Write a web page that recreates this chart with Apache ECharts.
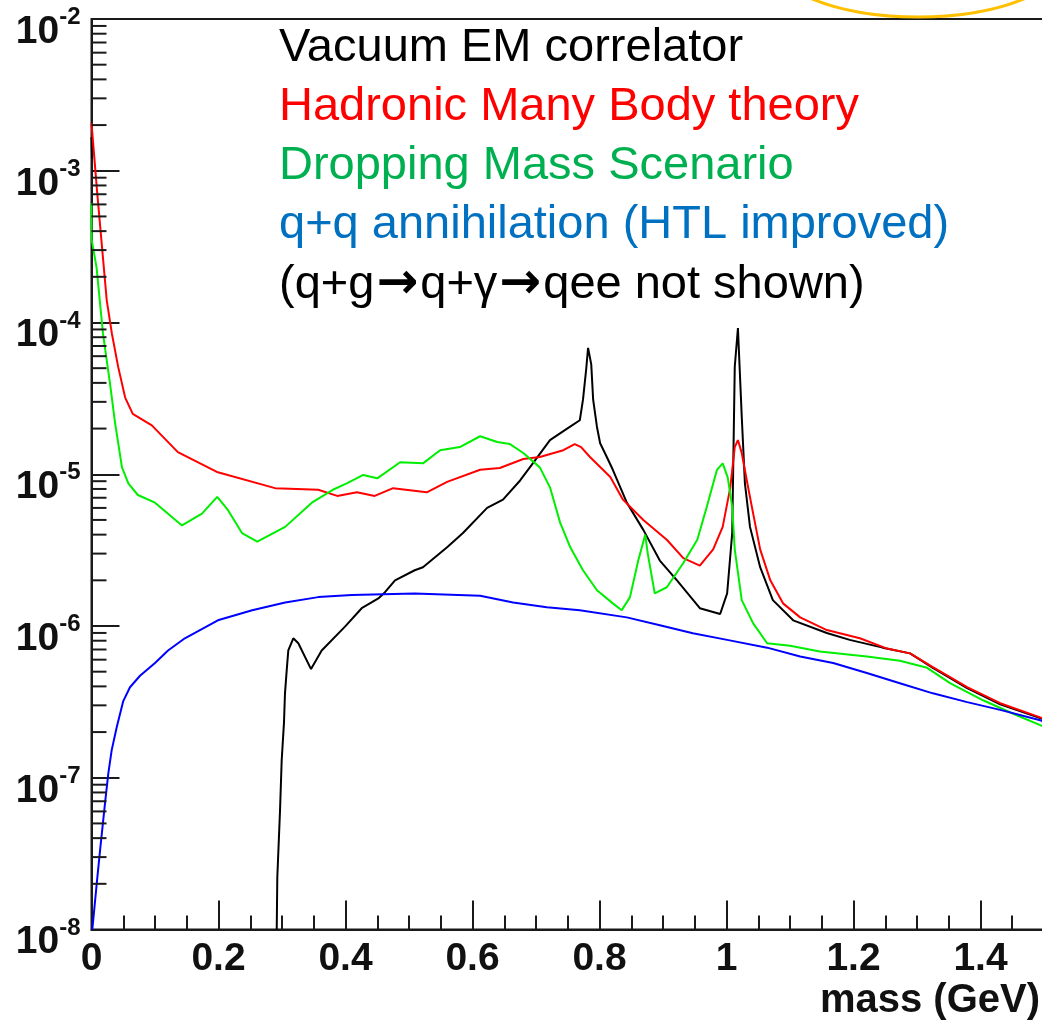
<!DOCTYPE html>
<html>
<head>
<meta charset="utf-8">
<script src="https://cdn.jsdelivr.net/npm/echarts@6/dist/echarts.min.js"></script>
<style>
html,body{margin:0;padding:0;background:#fff;}
#chart{width:1042px;height:1021px;}
</style>
</head>
<body>
<div id="chart"></div>
<script>
// ---- data: [mass (GeV), value] ----
const vacuumEMEdge = [[0.0, 1.67e-3], [0.0008, 1.21e-3]];
const vacuumEM = [
  [0.2917,1.0e-8],[0.2926,2.2e-8],[0.2969,6.1e-8],[0.2995,1.3e-7],[0.3031,2.3e-7],[0.3047,3.6e-7],
  [0.3074,5.1e-7],[0.3099,6.9e-7],[0.3178,8.3e-7],[0.3257,7.7e-7],[0.3457,5.2e-7],[0.3625,6.9e-7],
  [0.3992,9.9e-7],[0.4255,1.31e-6],[0.4517,1.52e-6],[0.4622,1.67e-6],[0.478,2.0e-6],[0.509,2.33e-6],
  [0.522,2.44e-6],[0.560,3.3e-6],[0.585,4.1e-6],[0.623,6.0e-6],[0.648,6.8e-6],[0.675,9.1e-6],
  [0.695,1.18e-5],[0.722,1.68e-5],[0.749,2.0e-5],[0.769,2.27e-5],[0.774,3.1e-5],[0.779,4.9e-5],
  [0.782,6.8e-5],[0.787,5.3e-5],[0.790,3.1e-5],[0.796,2.05e-5],[0.801,1.6e-5],[0.810,1.34e-5],
  [0.821,1.07e-5],[0.843,6.5e-6],[0.869,4.3e-6],[0.895,2.7e-6],[0.922,2.0e-6],[0.958,1.31e-6],
  [0.990,1.2e-6],[1.001,1.64e-6],[1.009,4.1e-6],[1.013,5.1e-5],[1.018,9.2e-5],[1.024,2.4e-5],
  [1.029,8.7e-6],[1.037,4.5e-6],[1.053,2.44e-6],[1.073,1.48e-6],[1.105,1.09e-6],[1.158,9.0e-7],
  [1.194,8.1e-7],[1.246,7.2e-7],[1.289,6.6e-7],[1.325,5.3e-7],[1.379,3.9e-7],[1.431,3.05e-7],
  [1.494,2.47e-7],[1.5,2.42e-7]
];
const hadronicMBT = [
  [0.000,2.06e-3],[0.009,7.15e-4],[0.024,1.4e-4],[0.032,8.5e-5],[0.042,5.1e-5],[0.053,3.2e-5],
  [0.065,2.5e-5],[0.095,2.1e-5],[0.136,1.4e-5],[0.199,1.03e-5],[0.289,8.1e-6],[0.357,7.9e-6],
  [0.387,7.2e-6],[0.418,7.6e-6],[0.446,7.2e-6],[0.475,8.1e-6],[0.528,7.6e-6],[0.560,8.9e-6],
  [0.612,1.07e-5],[0.643,1.1e-5],[0.680,1.26e-5],[0.706,1.3e-5],[0.743,1.44e-5],[0.761,1.58e-5],
  [0.771,1.51e-5],[0.785,1.3e-5],[0.817,9.6e-6],[0.837,6.8e-6],[0.869,5.0e-6],[0.906,3.7e-6],
  [0.932,2.8e-6],[0.958,2.5e-6],[0.979,3.2e-6],[0.994,4.5e-6],[1.006,8.2e-6],[1.013,1.51e-5],
  [1.018,1.68e-5],[1.024,1.38e-5],[1.032,9.1e-6],[1.042,5.5e-6],[1.053,3.2e-6],[1.069,2.0e-6],
  [1.089,1.41e-6],[1.116,1.14e-6],[1.158,9.4e-7],[1.210,8.3e-7],[1.253,7.1e-7],[1.289,6.6e-7],
  [1.325,5.35e-7],[1.379,3.95e-7],[1.431,3.1e-7],[1.494,2.5e-7],[1.5,2.45e-7]
];
const droppingMass = [
  [0.000,6.1e-4],[0.0003,3.5e-4],[0.008,2.3e-4],[0.018,8.5e-5],[0.029,4.0e-5],[0.037,2.2e-5],
  [0.048,1.11e-5],[0.058,8.7e-6],[0.073,7.3e-6],[0.100,6.5e-6],[0.1425,4.6e-6],[0.174,5.5e-6],
  [0.198,7.1e-6],[0.215,5.8e-6],[0.237,4.1e-6],[0.261,3.6e-6],[0.305,4.5e-6],[0.347,6.5e-6],
  [0.380,7.9e-6],[0.402,8.7e-6],[0.428,9.9e-6],[0.450,9.4e-6],[0.486,1.2e-5],[0.522,1.18e-5],
  [0.549,1.44e-5],[0.580,1.51e-5],[0.612,1.78e-5],[0.639,1.63e-5],[0.659,1.58e-5],[0.680,1.38e-5],
  [0.706,1.11e-5],[0.722,8.2e-6],[0.738,4.8e-6],[0.754,3.3e-6],[0.774,2.33e-6],[0.796,1.72e-6],
  [0.821,1.41e-6],[0.835,1.27e-6],[0.848,1.55e-6],[0.861,2.7e-6],[0.872,4.0e-6],[0.876,3.0e-6],
  [0.887,1.64e-6],[0.906,1.8e-6],[0.932,2.6e-6],[0.954,3.7e-6],[0.969,6.1e-6],[0.985,1.07e-5],
  [0.994,1.18e-5],[1.002,9.5e-6],[1.009,6.1e-6],[1.013,3.2e-6],[1.024,1.48e-6],[1.042,1.04e-6],
  [1.064,7.7e-7],[1.100,7.4e-7],[1.147,6.8e-7],[1.221,6.3e-7],[1.273,5.9e-7],[1.316,5.3e-7],
  [1.352,4.2e-7],[1.404,3.24e-7],[1.457,2.58e-7],[1.494,2.22e-7],[1.5,2.18e-7]
];
const qqAnnihilation = [
  [0.0013,1.0e-8],[0.0082,2.0e-8],[0.0134,3.3e-8],[0.0213,6.8e-8],[0.0265,1.07e-7],[0.0318,1.52e-7],
  [0.0397,2.15e-7],[0.050,3.2e-7],[0.0606,3.95e-7],[0.0764,4.7e-7],[0.100,5.7e-7],[0.1205,6.9e-7],
  [0.147,8.3e-7],[0.199,1.09e-6],[0.253,1.27e-6],[0.305,1.43e-6],[0.357,1.55e-6],[0.410,1.6e-6],
  [0.509,1.64e-6],[0.612,1.58e-6],[0.664,1.43e-6],[0.717,1.33e-6],[0.769,1.27e-6],[0.843,1.14e-6],
  [0.895,1.01e-6],[0.947,8.95e-7],[1.001,8.1e-7],[1.064,7.2e-7],[1.116,6.3e-7],[1.168,5.7e-7],
  [1.221,4.9e-7],[1.273,4.2e-7],[1.325,3.6e-7],[1.379,3.15e-7],[1.431,2.8e-7],[1.494,2.39e-7],
  [1.5,2.35e-7]
];
const legendLines = [
  '{n|Vacuum EM correlator}',
  '{n|Hadronic Many Body theory}',
  '{n|Dropping Mass Scenario}',
  '{n|q+q annihilation (HTL improved)}',
  '{n|(q+g}{a|\u2192}{n|q+\u03b3}{a|\u2192}{n|qee not shown)}'
];
const legendColors = ['#000000', '#ff0000', '#00b050', '#0070c0', '#000000'];
const xAxisName = 'mass (GeV)';
const yMinorMultipliers = [2, 3, 4, 5, 6, 7, 8, 9];
const yDecades = [-8, -7, -6, -5, -4, -3];

const yMinorTicks = [];
yDecades.forEach(e => yMinorMultipliers.forEach(m => yMinorTicks.push([0, m * Math.pow(10, e)])));

const FONT = "'Liberation Sans', Arial, Helvetica, sans-serif";
const AX = '#1a1a1a';

const chart = echarts.init(document.getElementById('chart'), null, {renderer: 'canvas'});

const lineSeries = (name, data, color) => ({
  name, type: 'line', data, showSymbol: false, symbol: 'none', clip: true,
  lineStyle: {color, width: 2}, itemStyle: {color}, z: 3
});

const graphics = legendLines.map((t, i) => ({
  type: 'text', left: 279, top: 51 + i * 58.8 - 26,
  style: {
    text: t, fill: legendColors[i], textVerticalAlign: 'top',
    rich: {
      n: {fontSize: 47, fontFamily: FONT, fill: legendColors[i], lineHeight: 52},
      a: {fontSize: 50, fontWeight: 'bold', fontFamily: "'DejaVu Sans', sans-serif", fill: legendColors[i],
          lineHeight: 52, padding: [0, 2, 0, 2]}
    }
  },
  z: 10
}));
graphics.push({
  type: 'text', right: 2, top: 981,
  style: {text: xAxisName, fill: '#111', font: `bold 40px ${FONT}`}, z: 10
});
graphics.push({
  type: 'ellipse', shape: {cx: 918, cy: -45, rx: 150, ry: 62},
  style: {stroke: '#ffc000', fill: null, lineWidth: 3}, z: 10
});

chart.setOption({
  animation: false,
  backgroundColor: '#ffffff',
  grid: {left: 91.5, right: -65.5, top: 19, bottom: 91.5, show: true,
         borderColor: AX, borderWidth: 2, backgroundColor: 'transparent', outerBoundsMode: 'none'},
  xAxis: {
    type: 'value', min: 0, max: 1.6, interval: 0.2,
    axisLine: {show: true, onZero: false, lineStyle: {color: AX, width: 2}},
    axisTick: {show: true, inside: true, length: 29, lineStyle: {color: AX, width: 2}},
    minorTick: {show: true, splitNumber: 4, length: 14, lineStyle: {color: AX, width: 2}},
    splitLine: {show: false}, minorSplitLine: {show: false},
    axisLabel: {margin: 10, fontSize: 39, fontWeight: 'bold', color: '#111', fontFamily: FONT}
  },
  yAxis: {
    type: 'log', logBase: 10, min: 1e-8, max: 1e-2, splitNumber: 6,
    axisLine: {show: true, onZero: false, lineStyle: {color: AX, width: 2}},
    axisTick: {show: true, inside: true, length: 28, lineStyle: {color: AX, width: 2}},
    splitLine: {show: false},
    axisLabel: {
      margin: 11, padding: [19, 0, 0, 0],
      formatter: v => '{b|10}{s|-' + (-Math.round(Math.log10(v))) + '}',
      rich: {
        b: {fontSize: 39, fontWeight: 'bold', fontFamily: FONT, color: '#111', lineHeight: 46, verticalAlign: 'bottom'},
        s: {fontSize: 24, fontWeight: 'bold', fontFamily: FONT, color: '#111', lineHeight: 20, verticalAlign: 'top'}
      }
    }
  },
  graphic: graphics,
  series: [
    lineSeries('Vacuum EM correlator', vacuumEM, '#000000'),
    lineSeries('Vacuum EM correlator (low edge)', vacuumEMEdge, '#000000'),
    lineSeries('Hadronic Many Body theory', hadronicMBT, '#ff0000'),
    lineSeries('Dropping Mass Scenario', droppingMass, '#00ee00'),
    lineSeries('q+q annihilation (HTL improved)', qqAnnihilation, '#0000ff'),
    {
      type: 'custom', coordinateSystem: 'cartesian2d', data: yMinorTicks, encode: {x: 0, y: 1},
      silent: true, clip: false, z: 5,
      renderItem: (params, api) => {
        const p = api.coord([api.value(0), api.value(1)]);
        return {type: 'line', shape: {x1: p[0], y1: p[1], x2: p[0] + 15, y2: p[1]},
                style: {stroke: AX, lineWidth: 2}};
      }
    }
  ]
});
</script>
</body>
</html>
